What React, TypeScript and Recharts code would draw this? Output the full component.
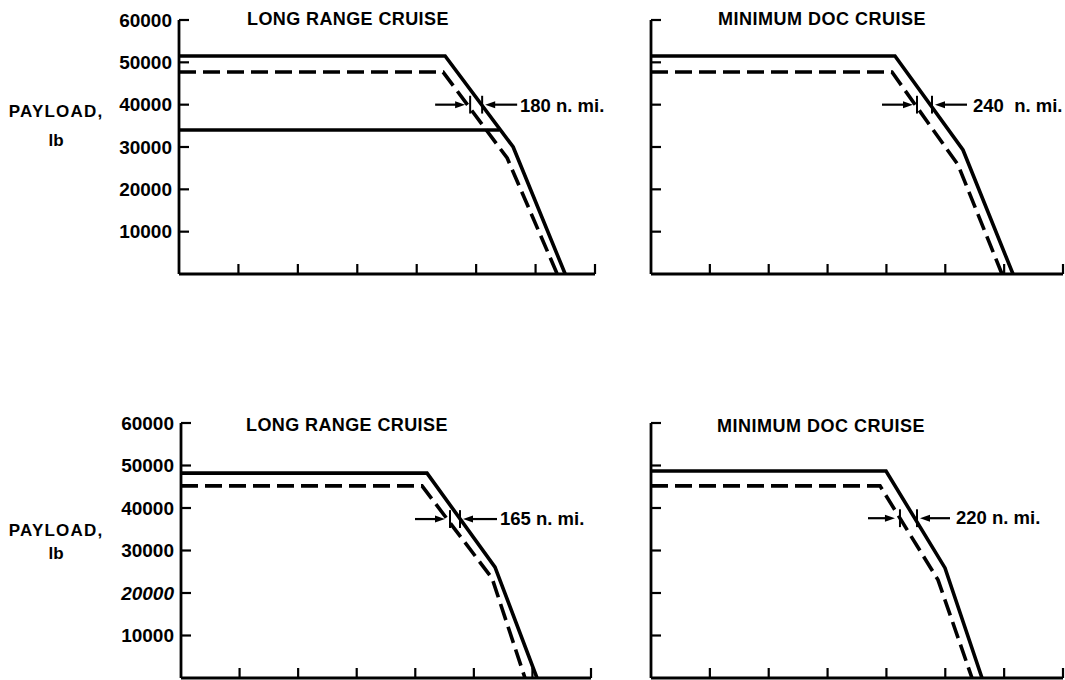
import React from "react";
import { LineChart, Line, XAxis, YAxis, ReferenceLine } from "recharts";

type Pt = { x: number; y: number };

const FONT = '"Liberation Sans", Arial, Helvetica, sans-serif';

// range (n. mi.) ticks, payload (lb) ticks
const xTicks = [0, 1000, 2000, 3000, 4000, 5000, 6000, 7000];
const yTicks = [10000, 20000, 30000, 40000, 50000, 60000];

// top left - long range cruise
const tlSolid: Pt[] = [{ x: 0, y: 51500 }, { x: 4478, y: 51500 }, { x: 5623, y: 30000 }, { x: 6498, y: 0 }];
const tlSolidLow: Pt[] = [{ x: 0, y: 34000 }, { x: 5390, y: 34000 }];
const tlDashed: Pt[] = [{ x: 0, y: 47700 }, { x: 4444, y: 47700 }, { x: 5522, y: 27400 }, { x: 6364, y: 0 }];

// top right - minimum DOC cruise
const trSolid: Pt[] = [{ x: 0, y: 51500 }, { x: 4145, y: 51500 }, { x: 5301, y: 29300 }, { x: 6150, y: 0 }];
const trDashed: Pt[] = [{ x: 0, y: 47700 }, { x: 4094, y: 47700 }, { x: 5216, y: 25800 }, { x: 5963, y: 0 }];

// bottom left - long range cruise
const blSolid: Pt[] = [{ x: 0, y: 48200 }, { x: 4200, y: 48200 }, { x: 5361, y: 26100 }, { x: 6078, y: 0 }];
const blDashed: Pt[] = [{ x: 0, y: 45200 }, { x: 4115, y: 45200 }, { x: 5310, y: 23500 }, { x: 5873, y: 0 }];

// bottom right - minimum DOC cruise
const brSolid: Pt[] = [{ x: 0, y: 48700 }, { x: 3993, y: 48700 }, { x: 4995, y: 25900 }, { x: 5624, y: 0 }];
const brDashed: Pt[] = [{ x: 0, y: 45200 }, { x: 3891, y: 45200 }, { x: 4876, y: 23100 }, { x: 5454, y: 0 }];

// range difference markers
const tlGap = { y: 40000, start: 4310, tipL: 4815, dashX: 4899, solidX: 5101, tipR: 5152, end: 5690 };
const trGap = { y: 40000, start: 3925, tipL: 4451, dashX: 4519, solidX: 4774, tipR: 4825, end: 5369 };
const blGap = { y: 37400, start: 3995, tipL: 4507, dashX: 4593, solidX: 4763, tipR: 4815, end: 5395 };
const brGap = { y: 37600, start: 3687, tipL: 4145, dashX: 4230, solidX: 4519, tipR: 4570, end: 5080 };

const Arrow = (props: any) => {
  const { x1, y1, x2, y2 } = props;
  const d = Math.sign(x2 - x1) || 1;
  return (
    <g>
      <line x1={x1} y1={y1} x2={x2 - d * 6} y2={y2} stroke="#000" strokeWidth={2.2} />
      <polygon points={`${x2},${y2} ${x2 - d * 10},${y2 - 3.5} ${x2 - d * 10},${y2 + 3.5}`} fill="#000" />
    </g>
  );
};

const XTick = (props: any) => {
  const { x, y, payload } = props;
  if (payload.value === 0) return <g />;
  return <line x1={x} y1={y} x2={x} y2={y - 10} stroke="#000" strokeWidth={2.2} />;
};

const YTick = (props: any) => {
  const { x, y, payload, labels, italic } = props;
  return (
    <g>
      <line x1={x} y1={y} x2={x + 10} y2={y} stroke="#000" strokeWidth={2.2} />
      {labels && (
        <text x={x - 7} y={y} textAnchor="end" dominantBaseline="central" fontFamily={FONT}
          fontWeight="bold" fontSize={19} fontStyle={italic === payload.value ? "italic" : "normal"} fill="#000">
          {payload.value}
        </text>
      )}
    </g>
  );
};

function Panel({ plotLeft, plotTop, plotW, plotH, labels, italic, solid, dashed, extra, gap }: any) {
  const AXW = 80, MT = 10, MR = 2, MB = 1, XH = 1;
  const g = gap;
  return (
    <div style={{ position: "absolute", left: plotLeft - AXW, top: plotTop - MT }}>
      <LineChart width={AXW + plotW + MR} height={MT + plotH + XH + MB} margin={{ top: MT, right: MR, left: 0, bottom: MB }}>
        <XAxis type="number" dataKey="x" domain={[0, 7000]} ticks={xTicks} interval={0} height={XH}
          tickSize={0} tickMargin={0} tickLine={false} axisLine={{ stroke: "#000", strokeWidth: 2.8 }}
          tick={(p: any) => <XTick {...p} />} allowDataOverflow />
        <YAxis type="number" domain={[0, 60000]} ticks={yTicks} interval={0} width={AXW}
          tickSize={0} tickMargin={0} tickLine={false} axisLine={{ stroke: "#000", strokeWidth: 2.8 }}
          tick={(p: any) => <YTick {...p} labels={labels} italic={italic} />} allowDataOverflow />
        <Line data={solid} dataKey="y" type="linear" stroke="#000" strokeWidth={3.6} dot={false} isAnimationActive={false} />
        {extra && (
          <Line data={extra} dataKey="y" type="linear" stroke="#000" strokeWidth={3.6} dot={false} isAnimationActive={false} />
        )}
        <Line data={dashed} dataKey="y" type="linear" stroke="#000" strokeWidth={3.6} strokeDasharray="17 7" dot={false} isAnimationActive={false} />
        <ReferenceLine segment={[{ x: g.start, y: g.y }, { x: g.tipL, y: g.y }]} shape={Arrow} ifOverflow="visible" />
        <ReferenceLine segment={[{ x: g.end, y: g.y }, { x: g.tipR, y: g.y }]} shape={Arrow} ifOverflow="visible" />
        <ReferenceLine segment={[{ x: g.dashX, y: g.y - 2100 }, { x: g.dashX, y: g.y + 2100 }]} stroke="#000" strokeWidth={2} ifOverflow="visible" />
        <ReferenceLine segment={[{ x: g.solidX, y: g.y - 2100 }, { x: g.solidX, y: g.y + 2100 }]} stroke="#000" strokeWidth={2} ifOverflow="visible" />
      </LineChart>
    </div>
  );
}

const txt = (left: number, top: number, s: string, size = 18, extra: any = {}) => (
  <div style={{ position: "absolute", left, top, fontFamily: FONT, fontWeight: "bold", fontSize: size,
    lineHeight: 1, whiteSpace: "nowrap", color: "#000", ...extra }}>{s}</div>
);

export default function App() {
  return (
    <div style={{ position: "absolute", left: 0, top: 0, width: 1065, height: 680, overflow: "hidden", background: "#fff" }}>
      <Panel plotLeft={179} plotTop={20} plotW={416} plotH={254} labels solid={tlSolid} extra={tlSolidLow} dashed={tlDashed} gap={tlGap} />
      <Panel plotLeft={651} plotTop={20} plotW={412} plotH={254} labels={false} solid={trSolid} dashed={trDashed} gap={trGap} />
      <Panel plotLeft={181} plotTop={423} plotW={410} plotH={255} labels italic={20000} solid={blSolid} dashed={blDashed} gap={blGap} />
      <Panel plotLeft={651} plotTop={423} plotW={412} plotH={255} labels={false} solid={brSolid} dashed={brDashed} gap={brGap} />

      {txt(247, 10, "LONG RANGE CRUISE", 18, { letterSpacing: 0.4 })}
      {txt(718, 10, "MINIMUM DOC CRUISE", 18, { letterSpacing: 0.5 })}
      {txt(246, 416, "LONG RANGE CRUISE", 18, { letterSpacing: 0.4 })}
      {txt(717, 417, "MINIMUM DOC CRUISE", 18, { letterSpacing: 0.5 })}

      {txt(0, 103, "PAYLOAD,", 17, { width: 112, textAlign: "center", letterSpacing: 1.2 })}
      {txt(0, 132, "lb", 17, { width: 112, textAlign: "center" })}
      {txt(0, 522, "PAYLOAD,", 17, { width: 112, textAlign: "center", letterSpacing: 1.2 })}
      {txt(0, 545, "lb", 17, { width: 112, textAlign: "center" })}

      {txt(520, 97, "180 n. mi.", 18.5)}
      {txt(973, 97, "240  n. mi.", 18.5, { whiteSpace: "pre" })}
      {txt(500, 510, "165 n. mi.", 18.5)}
      {txt(956, 509, "220 n. mi.", 18.5)}
    </div>
  );
}
